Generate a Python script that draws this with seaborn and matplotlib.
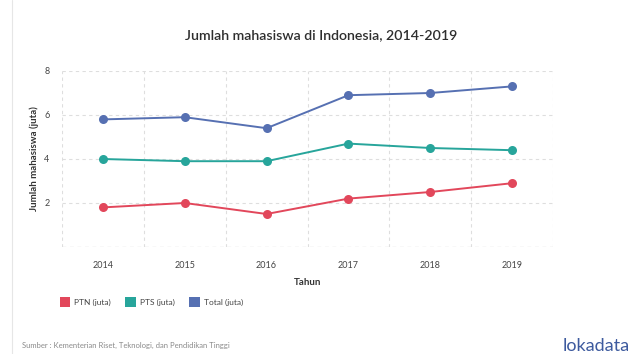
import matplotlib
matplotlib.use("Agg")
import matplotlib.pyplot as plt
from matplotlib.patches import Patch
from matplotlib.lines import Line2D
import seaborn as sns
import pandas as pd

years = ["2014", "2015", "2016", "2017", "2018", "2019"]
ptn = [1.8, 2.0, 1.5, 2.2, 2.5, 2.9]
pts = [4.0, 3.9, 3.9, 4.7, 4.5, 4.4]
total = [5.8, 5.9, 5.4, 6.9, 7.0, 7.3]
series_names = ["PTN (juta)", "PTS (juta)", "Total (juta)"]
colors = ["#e2475b", "#27a59b", "#5670b2"]
yticks = [2, 4, 6, 8]

df = pd.DataFrame({
    "Tahun": years * 3,
    "value": ptn + pts + total,
    "series": [series_names[0]] * 6 + [series_names[1]] * 6 + [series_names[2]] * 6,
})

sns.set_theme(style="white")
plt.rcParams["font.family"] = ["Lato", "DejaVu Sans"]

fig = plt.figure(figsize=(6.33, 3.54), dpi=100)
ax = fig.add_axes([62 / 633, 1 - 247 / 354, (553 - 62) / 633, (247 - 71) / 354])

sns.lineplot(data=df, x="Tahun", y="value", hue="series", palette=colors,
             marker="o", markersize=6.5, markeredgewidth=0, linewidth=1.4,
             ax=ax, legend=False, sort=False, zorder=3)

ax.set_xlim(-0.5, len(years) - 0.5)
ax.set_ylim(0, 8)
ax.set_yticks(yticks)
ax.set_yticklabels([str(v) for v in yticks])
ax.set_xticks(range(len(years)))
ax.set_xticklabels(years)

grid_kw = dict(color="#dedede", linestyle=(0, (3, 3)), linewidth=0.8, zorder=0)
for v in yticks:
    ax.axhline(v, **grid_kw)
ax.axhline(0, color="#c8c8c8", linestyle=(0, (3, 3)), linewidth=0.9, zorder=0)
for i in range(len(years) + 1):
    ax.axvline(i - 0.5, **grid_kw)

for s in ax.spines.values():
    s.set_visible(False)
ax.tick_params(axis="both", length=0, labelsize=6.5, colors="#444444")
ax.tick_params(axis="x", pad=10)
ax.tick_params(axis="y", pad=9)

ax.set_xlabel("Tahun", fontsize=7, fontweight="bold", color="#333333", labelpad=6)
ax.set_ylabel("Jumlah mahasiswa (juta)", fontsize=7, fontweight="bold", color="#333333", labelpad=4)

fig.text(321 / 633, 1 - 35 / 354, "Jumlah mahasiswa di Indonesia, 2014-2019",
         ha="center", va="center", fontsize=10.2, fontweight="semibold", color="#2e2e2e")

handles = [Patch(facecolor=c, edgecolor="none") for c in colors]
fig.legend(handles, series_names, loc="center left",
           bbox_to_anchor=(52 / 633, 1 - 302 / 354), ncol=3, frameon=False,
           fontsize=6, handlelength=1.3, handleheight=1.3, handletextpad=0.5,
           columnspacing=1.7, labelcolor="#444444")

fig.text(22 / 633, 1 - 345 / 354,
         "Sumber : Kementerian Riset, Teknologi, dan Pendidikan Tinggi",
         ha="left", va="center", fontsize=5.5, color="#8a8a8a")
fig.text(630 / 633, 1 - 346 / 354, "lokadata", ha="right", va="center",
         fontsize=13, color="#3d5a9e")

fig.add_artist(Line2D([12 / 633, 12 / 633], [0, 1], color="#e6e6e6", linewidth=0.8))

fig.savefig("out.png", dpi=100, facecolor="white")
